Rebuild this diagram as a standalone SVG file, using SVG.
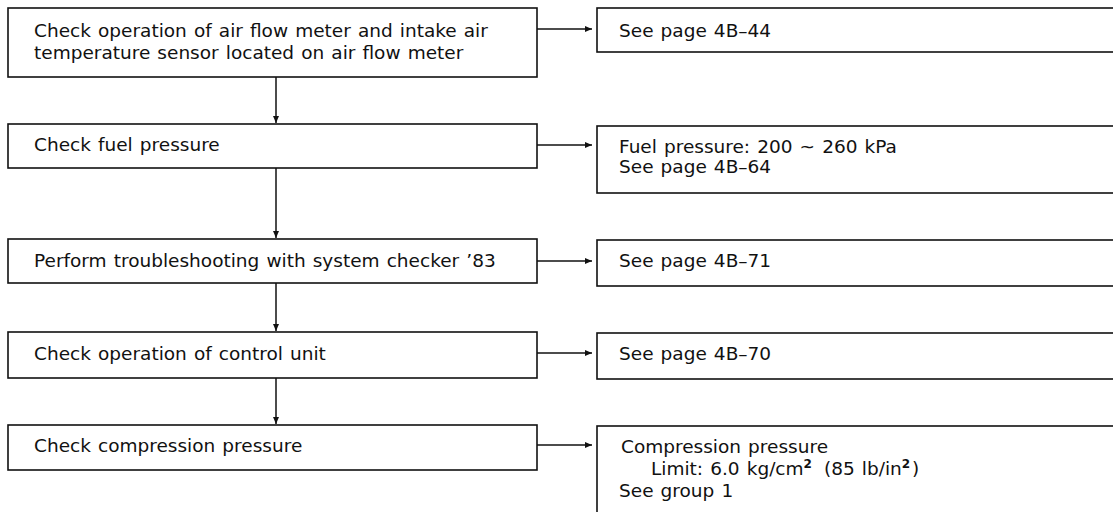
<svg xmlns="http://www.w3.org/2000/svg" width="1113" height="512" viewBox="0 0 1113 512">
  <style>
    .box { fill: #ffffff; stroke: #111111; stroke-width: 1.6; }
    .conn { stroke: #111111; stroke-width: 1.5; fill: none; marker-end: url(#arr); }
    .t { font-family: "DejaVu Sans", "Liberation Sans", sans-serif; font-size: 18.5px; word-spacing: 1.2px; fill: #111111; }
    .sup { font-size: 12px; font-weight: bold; }
  </style>
  <defs>
    <marker id="arr" markerUnits="userSpaceOnUse" markerWidth="8" markerHeight="8" refX="7" refY="3" orient="auto">
      <path d="M0,0 L7,3 L0,6 Z" fill="#111111"/>
    </marker>
  </defs>
  <rect width="1113" height="512" fill="#ffffff"/>

  <g id="connectors">
    <line class="conn" x1="537" y1="29" x2="592" y2="29"/>
    <line class="conn" x1="537" y1="145" x2="592" y2="145"/>
    <line class="conn" x1="537" y1="261" x2="592" y2="261"/>
    <line class="conn" x1="537" y1="353" x2="592" y2="353"/>
    <line class="conn" x1="537" y1="445" x2="592" y2="445"/>
    <line class="conn" x1="276" y1="77" x2="276" y2="123"/>
    <line class="conn" x1="276" y1="168" x2="276" y2="238"/>
    <line class="conn" x1="276" y1="283" x2="276" y2="331"/>
    <line class="conn" x1="276" y1="378" x2="276" y2="424"/>
  </g>

  <g id="step1">
    <rect class="box" x="8" y="8" width="529" height="69"/>
    <text class="t" x="34" y="37">Check operation of air flow meter and intake air</text>
    <text class="t" x="34" y="59">temperature sensor located on air flow meter</text>
  </g>
  <g id="ref1">
    <rect class="box" x="597" y="8" width="540" height="44"/>
    <text class="t" x="619" y="37">See page 4B–44</text>
  </g>

  <g id="step2">
    <rect class="box" x="8" y="124" width="529" height="44"/>
    <text class="t" x="34" y="151">Check fuel pressure</text>
  </g>
  <g id="ref2">
    <rect class="box" x="597" y="126" width="540" height="67"/>
    <text class="t" x="619" y="153">Fuel pressure: 200 ~ 260 kPa</text>
    <text class="t" x="619" y="173">See page 4B–64</text>
  </g>

  <g id="step3">
    <rect class="box" x="8" y="239" width="529" height="44"/>
    <text class="t" x="34" y="267">Perform troubleshooting with system checker ’83</text>
  </g>
  <g id="ref3">
    <rect class="box" x="597" y="240" width="540" height="46"/>
    <text class="t" x="619" y="267">See page 4B–71</text>
  </g>

  <g id="step4">
    <rect class="box" x="8" y="332" width="529" height="46"/>
    <text class="t" x="34" y="360">Check operation of control unit</text>
  </g>
  <g id="ref4">
    <rect class="box" x="597" y="333" width="540" height="46"/>
    <text class="t" x="619" y="360">See page 4B–70</text>
  </g>

  <g id="step5">
    <rect class="box" x="8" y="425" width="529" height="45"/>
    <text class="t" x="34" y="452">Check compression pressure</text>
  </g>
  <g id="ref5">
    <rect class="box" x="597" y="426" width="540" height="120"/>
    <text class="t" x="621" y="453">Compression pressure</text>
    <text class="t" x="651" y="475">Limit: 6.0 kg/cm<tspan class="sup" dy="-7">2</tspan><tspan dx="12" dy="7">(85 lb/in</tspan><tspan class="sup" dy="-7">2</tspan><tspan dx="2" dy="7">)</tspan></text>
    <text class="t" x="619" y="497">See group 1</text>
  </g>
</svg>
